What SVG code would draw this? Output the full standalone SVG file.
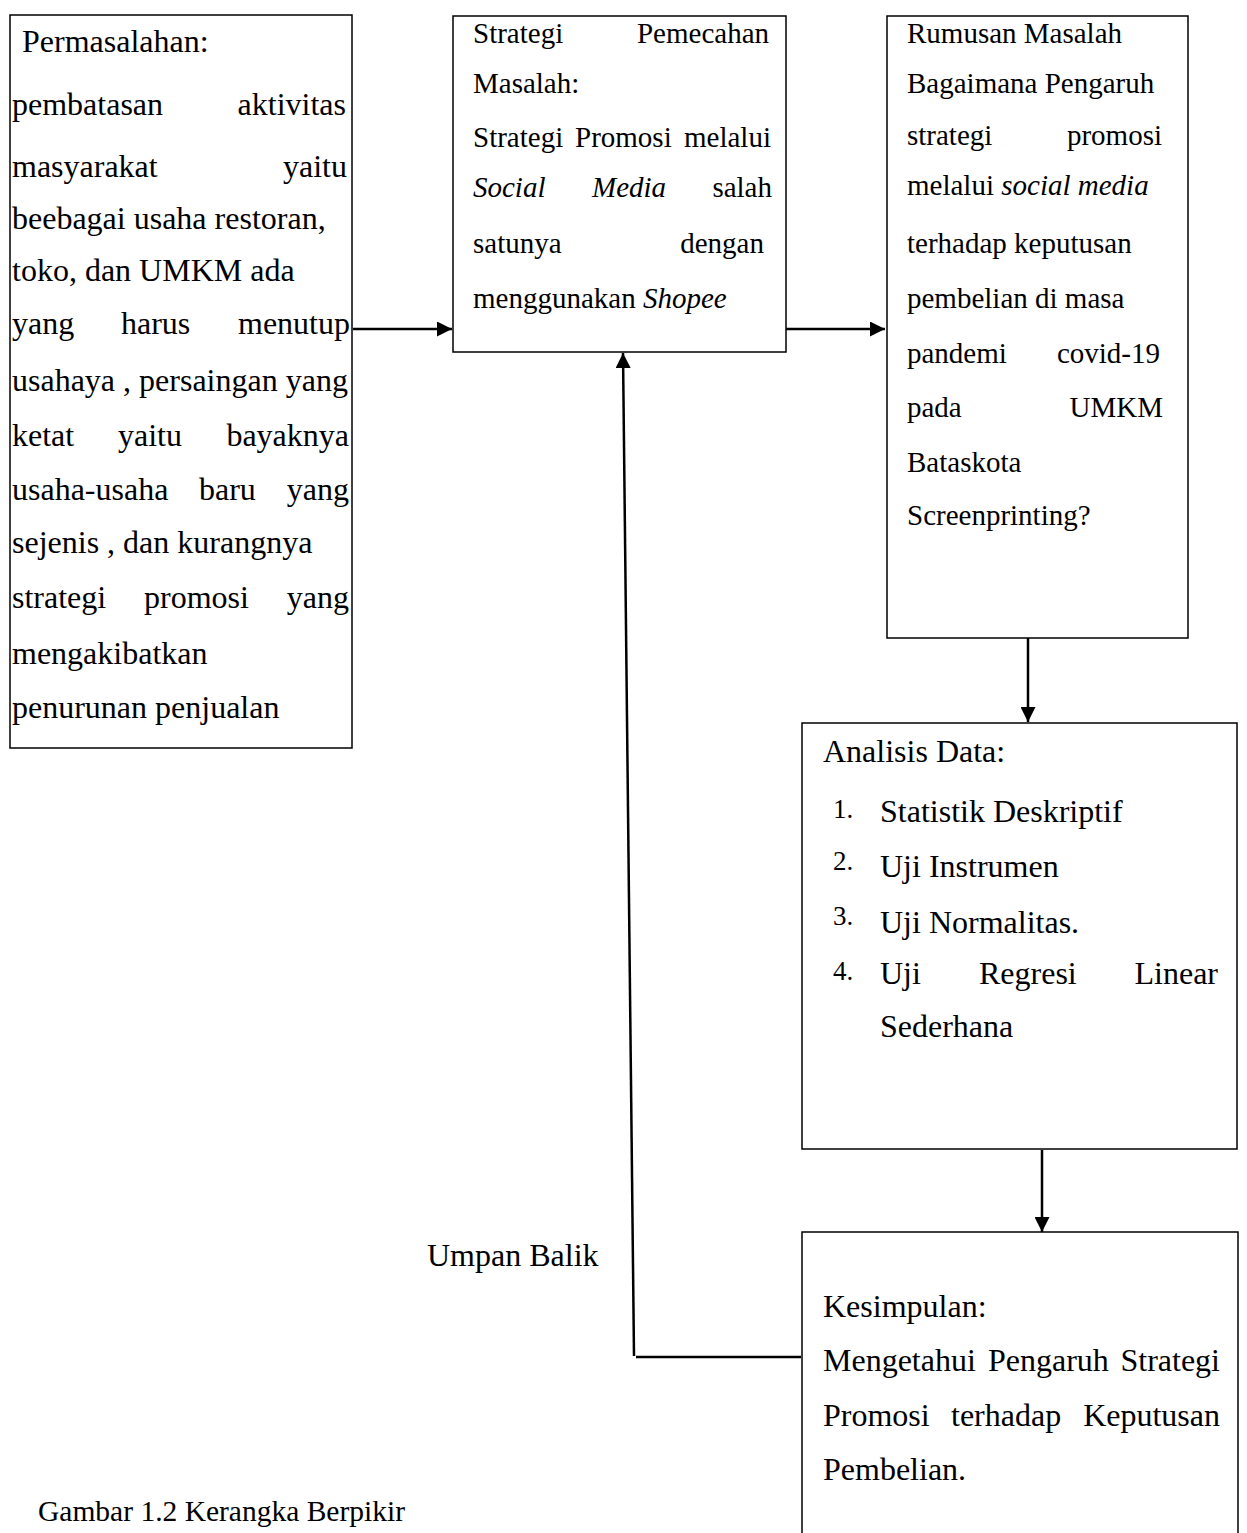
<svg xmlns="http://www.w3.org/2000/svg" width="1247" height="1533" viewBox="0 0 1247 1533">
<style>
.box{fill:#fff;stroke:#000;stroke-width:1.5}
.t{font-family:"Liberation Serif","Times New Roman",serif;font-size:32px;fill:#000}
.m{font-size:29px}
.n{font-size:27px}
.i{font-style:italic}
.e{text-anchor:end}
.c{fill:none;stroke:#000;stroke-width:2.5}
</style>
<defs>
<marker id="ah" viewBox="0 0 10 10" refX="10" refY="5" markerUnits="userSpaceOnUse" markerWidth="21" markerHeight="15" orient="auto">
<path d="M0,0 L10,5 L0,10 z" fill="#000"/>
</marker>
</defs>
<rect width="1247" height="1533" fill="#fff"/>

<g id="connectors">
<line class="c" x1="353" y1="329" x2="452" y2="329" marker-end="url(#ah)"/>
<line class="c" x1="786" y1="329" x2="885" y2="329" marker-end="url(#ah)"/>
<line class="c" x1="1028" y1="638" x2="1028" y2="722" marker-end="url(#ah)"/>
<line class="c" x1="1042" y1="1150" x2="1042" y2="1232" marker-end="url(#ah)"/>
<line class="c" x1="801" y1="1357" x2="636" y2="1357"/>
<line class="c" x1="634" y1="1356" x2="623" y2="353" marker-end="url(#ah)"/>
</g>

<g id="permasalahan">
<rect class="box" x="10" y="15" width="342" height="733"/>
<text class="t" x="22" y="52">Permasalahan:</text>
<text class="t" x="12" y="115">pembatasan</text><text class="t e" x="346" y="115">aktivitas</text>
<text class="t" x="12" y="177">masyarakat</text><text class="t e" x="347" y="177">yaitu</text>
<text class="t" x="12" y="229">beebagai usaha restoran,</text>
<text class="t" x="12" y="281">toko, dan UMKM ada</text>
<text class="t" x="12" y="334">yang</text><text class="t" x="121" y="334">harus</text><text class="t e" x="350" y="334">menutup</text>
<text class="t" x="12" y="391">usahaya , persaingan yang</text>
<text class="t" x="12" y="446">ketat</text><text class="t" x="118" y="446">yaitu</text><text class="t e" x="349" y="446">bayaknya</text>
<text class="t" x="12" y="500">usaha-usaha</text><text class="t" x="199" y="500">baru</text><text class="t e" x="349" y="500">yang</text>
<text class="t" x="12" y="553">sejenis , dan kurangnya</text>
<text class="t" x="12" y="608">strategi</text><text class="t" x="144" y="608">promosi</text><text class="t e" x="349" y="608">yang</text>
<text class="t" x="12" y="664">mengakibatkan</text>
<text class="t" x="12" y="718">penurunan penjualan</text>
</g>

<g id="strategi">
<rect class="box" x="453" y="16" width="333" height="336"/>
<text class="t m" x="473" y="43">Strategi</text><text class="t m e" x="769" y="43">Pemecahan</text>
<text class="t m" x="473" y="93">Masalah:</text>
<text class="t m" x="473" y="147">Strategi</text><text class="t m" x="575" y="147">Promosi</text><text class="t m e" x="771" y="147">melalui</text>
<text class="t m i" x="473" y="197">Social</text><text class="t m i" x="592" y="197">Media</text><text class="t m e" x="772" y="197">salah</text>
<text class="t m" x="473" y="253">satunya</text><text class="t m e" x="764" y="253">dengan</text>
<text class="t m" x="473" y="308">menggunakan <tspan class="i">Shopee</tspan></text>
</g>

<g id="rumusan">
<rect class="box" x="887" y="16" width="301" height="622"/>
<text class="t m" x="907" y="43">Rumusan Masalah</text>
<text class="t m" x="907" y="93">Bagaimana Pengaruh</text>
<text class="t m" x="907" y="145">strategi</text><text class="t m e" x="1162" y="145">promosi</text>
<text class="t m" x="907" y="195">melalui <tspan class="i">social media</tspan></text>
<text class="t m" x="907" y="253">terhadap keputusan</text>
<text class="t m" x="907" y="308">pembelian di masa</text>
<text class="t m" x="907" y="363">pandemi</text><text class="t m e" x="1160" y="363">covid-19</text>
<text class="t m" x="907" y="417">pada</text><text class="t m e" x="1163" y="417">UMKM</text>
<text class="t m" x="907" y="472">Bataskota</text>
<text class="t m" x="907" y="525">Screenprinting?</text>
</g>

<g id="analisis">
<rect class="box" x="802" y="723" width="435" height="426"/>
<text class="t" x="823" y="762">Analisis Data:</text>
<text class="t n" x="833" y="818">1.</text><text class="t" x="880" y="822">Statistik Deskriptif</text>
<text class="t n" x="833" y="870">2.</text><text class="t" x="880" y="877">Uji Instrumen</text>
<text class="t n" x="833" y="925">3.</text><text class="t" x="880" y="933">Uji Normalitas.</text>
<text class="t n" x="833" y="980">4.</text><text class="t" x="880" y="984">Uji</text><text class="t" x="979" y="984">Regresi</text><text class="t e" x="1218" y="984">Linear</text>
<text class="t" x="880" y="1037">Sederhana</text>
</g>

<g id="kesimpulan">
<rect class="box" x="802" y="1232" width="436" height="320"/>
<text class="t" x="823" y="1317">Kesimpulan:</text>
<text class="t" x="823" y="1371">Mengetahui</text><text class="t" x="988" y="1371">Pengaruh</text><text class="t e" x="1220" y="1371">Strategi</text>
<text class="t" x="823" y="1426">Promosi</text><text class="t" x="951" y="1426">terhadap</text><text class="t e" x="1220" y="1426">Keputusan</text>
<text class="t" x="823" y="1480">Pembelian.</text>
</g>

<g id="umpan-balik">
<text class="t" x="427" y="1266">Umpan Balik</text>
</g>

<g id="caption">
<text class="t" x="38" y="1521" style="font-size:29.5px">Gambar 1.2 Kerangka Berpikir</text>
</g>
</svg>
